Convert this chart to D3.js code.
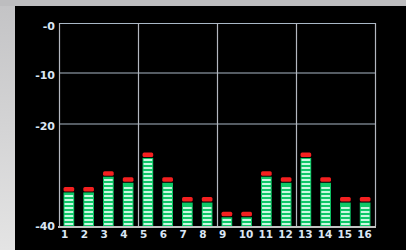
<!DOCTYPE html>
<html>
<head>
<meta charset="utf-8">
<script src="https://cdn.jsdelivr.net/npm/d3@7"></script>
<style>
  html, body { margin: 0; padding: 0; background: #c8c8ca; overflow: hidden; }
  svg { display: block; }
  .tick text { font-family: "DejaVu Sans", sans-serif; font-weight: bold; fill: #dbe6f4; }
</style>
</head>
<body>
<div id="chart"></div>
<script>
'use strict';

// channel numbers along the bottom
var channels = ['1', '2', '3', '4', '5', '6', '7', '8', '9', '10', '11', '12', '13', '14', '15', '16'];
// level of each channel in dB (top of the red peak cap)
var levels = [-32.3, -32.3, -29.2, -30.4, -25.5, -30.4, -34.3, -34.3, -37.2, -37.2, -29.2, -30.4, -25.5, -30.4, -34.3, -34.3];
var yTicks = [0, -10, -20, -40];
var yTickLabels = ['-0', '-10', '-20', '-40'];
var gridLevels = [-10, -20];
var groupEvery = 4;

var width = 406;
var height = 250;
var margin = { top: 23, right: 31, bottom: 24, left: 59 };

var svg = d3.select('#chart')
  .append('svg')
  .attr('width', width)
  .attr('height', height);

var defs = svg.append('defs');
var grad = defs.append('linearGradient')
  .attr('id', 'bg')
  .attr('x1', 0).attr('y1', 0).attr('x2', 0).attr('y2', 1);
grad.append('stop').attr('offset', '0%').attr('stop-color', '#c3c3c5');
grad.append('stop').attr('offset', '100%').attr('stop-color', '#e4e4e4');

// outer frame + black panel
svg.append('rect').attr('width', width).attr('height', height).attr('fill', 'url(#bg)');
svg.append('rect').attr('width', width).attr('height', 6).attr('fill', '#bdbdbf');
svg.append('rect')
  .attr('x', 15).attr('y', 6)
  .attr('width', width - 15).attr('height', height - 6)
  .attr('fill', '#000');

var x = d3.scaleBand()
  .domain(channels)
  .range([margin.left, width - margin.right])
  .paddingInner(0.46)
  .paddingOuter(0.23);

var y = d3.scaleLinear()
  .domain([-40, 0])
  .range([height - margin.bottom, margin.top]);

var left = x.range()[0];
var right = x.range()[1];

// grid (inner lines sit a touch high on the original screen)
var grid = svg.append('g').attr('class', 'grid');
grid.selectAll('line.h')
  .data(gridLevels.concat([0]))
  .enter()
  .append('line')
  .attr('x1', left).attr('x2', right)
  .attr('y1', function (d) { return Math.round(y(d)) + (d === 0 ? 0.5 : -1); })
  .attr('y2', function (d) { return Math.round(y(d)) + (d === 0 ? 0.5 : -1); })
  .attr('stroke', '#a9b7c6')
  .attr('stroke-width', 1.2);

var groups = d3.range(groupEvery, channels.length, groupEvery);
grid.selectAll('line.v')
  .data(groups.concat([0, channels.length]))
  .enter()
  .append('line')
  .attr('x1', function (d) { return Math.round(left + x.step() * d) + 0.5; })
  .attr('x2', function (d) { return Math.round(left + x.step() * d) + 0.5; })
  .attr('y1', y(0)).attr('y2', y(-40))
  .attr('stroke', '#b4b8c0')
  .attr('stroke-width', 1.2);

// bars
var stripe = 4;
var bars = svg.append('g').attr('class', 'bars')
  .selectAll('g')
  .data(levels)
  .enter()
  .append('g');

bars.each(function (d, i) {
  var g = d3.select(this);
  var bx = x(channels[i]);
  var bw = x.bandwidth();
  var top = y(d);
  var base = y(-40);
  g.append('rect')
    .attr('x', bx).attr('y', top)
    .attr('width', bw).attr('height', 4.5)
    .attr('rx', 1.5)
    .attr('fill', '#f42020');
  var bodyTop = top + 5.5;
  g.append('rect')
    .attr('x', bx).attr('y', bodyTop)
    .attr('width', bw).attr('height', base - bodyTop)
    .attr('fill', '#0fc868');
  var n = Math.floor((base - bodyTop) / stripe);
  g.selectAll('rect.s')
    .data(d3.range(n))
    .enter()
    .append('rect')
    .attr('x', bx + 1).attr('width', bw - 2)
    .attr('y', function (k) { return base - stripe * (k + 1) + 1; })
    .attr('height', 2)
    .attr('fill', '#c8f8e0');
});

// bottom axis line
svg.append('line')
  .attr('x1', left - 1).attr('x2', right + 1)
  .attr('y1', y(-40) + 1).attr('y2', y(-40) + 1)
  .attr('stroke', '#c4c4c4')
  .attr('stroke-width', 2);

// axes
var yAxis = d3.axisLeft(y)
  .tickValues(yTicks)
  .tickFormat(function (d, i) { return yTickLabels[i]; })
  .tickSize(0)
  .tickPadding(4);

svg.append('g')
  .attr('transform', 'translate(' + left + ',0)')
  .call(yAxis)
  .call(function (g) { g.select('.domain').remove(); })
  .selectAll('text')
  .attr('font-size', 11)
  .attr('dy', function (d) { return d === 0 ? '0.6em' : (d === -40 ? '0.3em' : '0.45em'); });

var xAxis = d3.axisBottom(x)
  .tickSize(0)
  .tickPadding(5);

svg.append('g')
  .attr('transform', 'translate(0,' + y(-40) + ')')
  .call(xAxis)
  .call(function (g) { g.select('.domain').remove(); })
  .selectAll('text')
  .attr('font-size', 10.5)
  .attr('text-anchor', 'start')
  .attr('x', -x.bandwidth() / 2 - 2.5);
</script>
</body>
</html>
